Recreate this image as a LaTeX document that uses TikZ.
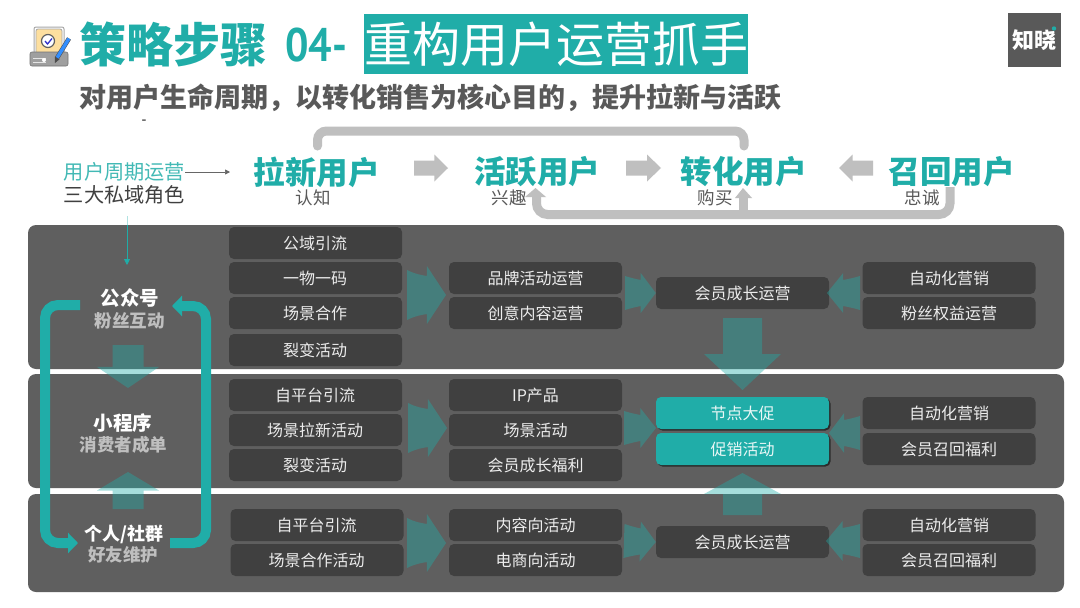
\documentclass[tikz,border=0pt]{standalone}
\usepackage{fontspec}
\setmainfont{Noto Sans CJK SC}
\newfontfamily\latinhead{PT Sans}
\usetikzlibrary{calc,arrows.meta,shadows}
\definecolor{teal1}{HTML}{20ADA8}
\definecolor{panelc}{HTML}{5F5F5F}
\definecolor{boxc}{HTML}{404040}
\definecolor{greyarrow}{HTML}{BFBFBF}
\definecolor{headgrey}{HTML}{595959}
\newcommand{\fs}[1]{\fontsize{#1}{#1}\selectfont}
\tikzset{
  panel/.style={fill=panelc,rounded corners=8pt,draw=none},
  bx/.style={fill=boxc,rounded corners=5pt,minimum width=173pt,minimum height=32pt,inner sep=0pt,text=white!93!black,font=\fs{16}},
  tbx/.style={bx,fill=teal1,text=white!90!teal1,drop shadow={shadow xshift=1.5pt,shadow yshift=-1.5pt,fill=black,opacity=.55}},
  hd/.style={font=\fs{31.5}\bfseries,text=teal1,inner sep=0pt},
  subl/.style={font=\fs{17.5},text=headgrey,inner sep=0pt},
  rolea/.style={font=\fs{19.5}\bfseries,text=white,inner sep=0pt},
  roleb/.style={font=\fs{17.5}\bfseries,text=white!75!black,inner sep=0pt},
  fatfill/.style={fill=teal1,fill opacity=.4,draw=none},
  greyline/.style={draw=greyarrow,line width=9pt,rounded corners=9pt},
  loopline/.style={draw=teal1,line width=10pt,rounded corners=13pt,-{Triangle[width=20pt,length=10pt]}},
}
% point at fraction f along a->b, offset d pt sideways
\newcommand{\pp}[4]{($(#1)!#3!(#2)!#4pt!90:(#2)$)}
% concave-tailed block arrow between two named coordinates
\newcommand{\fatarrow}[3]{%
  \fill[fatfill] \pp{#1}{#2}{0}{\the\numexpr#3*85/100\relax}
   .. controls \pp{#1}{#2}{.2}{\the\numexpr#3*74/100\relax} and \pp{#1}{#2}{.36}{\the\numexpr#3*68/100\relax} .. \pp{#1}{#2}{.51}{\the\numexpr#3*66/100\relax}
   -- \pp{#1}{#2}{.51}{#3} -- (#2) -- \pp{#1}{#2}{.51}{-#3} -- \pp{#1}{#2}{.51}{-\the\numexpr#3*66/100\relax}
   .. controls \pp{#1}{#2}{.36}{-\the\numexpr#3*68/100\relax} and \pp{#1}{#2}{.2}{-\the\numexpr#3*74/100\relax} .. \pp{#1}{#2}{0}{-\the\numexpr#3*85/100\relax} -- cycle;}
% straight block arrow: tail, tip, stem half-width, head half-width, fraction where the head starts, style
\newcommand{\blockarrow}[6]{%
  \fill[#6] \pp{#1}{#2}{0}{#3} -- \pp{#1}{#2}{#5}{#3} -- \pp{#1}{#2}{#5}{#4} -- (#2) -- \pp{#1}{#2}{#5}{-#4} -- \pp{#1}{#2}{#5}{-#3} -- \pp{#1}{#2}{0}{-#3} -- cycle;}
\begin{document}
\begin{tikzpicture}[x=1pt,y=-1pt]
\useasboundingbox (0,0) rectangle (1080,608);
\fill[white] (0,0) rectangle (1080,608);

% icon
\fill[white,draw=gray!70,line width=1pt,rounded corners=2pt] (34,27) rectangle (64,54);
\fill[yellow!35!orange!35!white,draw=gray!70,line width=.8pt,rounded corners=2pt] (36,29) rectangle (62,54);
\draw[fill=white,draw=gray!75!black,line width=1.2pt] (48,41) circle (6.5pt);
\draw[blue!60!gray,line width=1.3pt] (45,41) -- (47.5,44) -- (52,38.5);
\fill[gray!75,draw=gray!90!black,line width=.6pt,rounded corners=2pt] (30,52) rectangle (68,66);
\draw[white!90!black,line width=1pt] (33,58) -- (46,58) (33,62) -- (46,62);
\fill[white] (44,60) circle (2pt);
\draw[gray!60!black,line width=4.5pt] (69,38.5) -- (57,58);
\draw[blue!55!cyan!80!white,line width=3.5pt] (69,38.5) -- (57,58);
\fill[gray!60!black] (55,63) -- (54.8,56.5) -- (59.5,59.3) -- cycle;

% title
\node[anchor=west,inner sep=0pt,font=\fs{47}\bfseries,text=teal1] (title) at (79,44) {策略步骤};
\node[anchor=west,inner sep=0pt,font=\fs{47}\latinhead\bfseries,text=teal1,transform shape,xscale=.88] (titlenum) at (285,45) {04-};
\node[fill=teal1,minimum width=384pt,minimum height=60pt,inner sep=0pt,font=\fs{48},text=white] (titlebox) at (556,44) {重构用户运营抓手};
\node[anchor=west,inner sep=0pt,font=\fs{27}\bfseries,text=headgrey] (subtitle) at (79,98) {对用户生命周期，以转化销售为核心目的，提升拉新与活跃};
\node[inner sep=0pt,font=\fs{14}] (dash) at (144,122) {-};

% logo
\node[fill=headgrey,minimum width=53pt,minimum height=54pt,inner sep=0pt,font=\fs{22}\bfseries,text=white] (logo) at (1034.5,40) {知晓};
\fill[teal1] (1054,28.5) circle (2.2pt);

% headers
\node[hd] (h1) at (316.5,172) {拉新用户};
\node[hd] (h2) at (537,172) {活跃用户};
\node[hd] (h3) at (743.5,172) {转化用户};
\node[hd] (h4) at (951.5,172) {召回用户};
\node[subl] (s1) at (313,198) {认知};
\node[subl] (s2) at (509,198) {兴趣};
\node[subl] (s3) at (715,198) {购买};
\node[subl] (s4) at (922,198) {忠诚};
\node[inner sep=0pt,font=\fs{20.2},text=teal1!85!white] (lc) at (124.5,172) {用户周期运营};
\node[inner sep=0pt,font=\fs{20.2},text=boxc] (pr) at (124.5,195) {三大私域角色};

% grey flow arrows
\coordinate (ga1) at (414,168); \coordinate (gb1) at (448,168);
\coordinate (ga2) at (626,168); \coordinate (gb2) at (661,168);
\coordinate (ga3) at (873,168); \coordinate (gb3) at (839,168);
\blockarrow{ga1}{gb1}{7.5}{13.5}{.6}{fill=greyarrow}
\blockarrow{ga2}{gb2}{7.5}{13.5}{.6}{fill=greyarrow}
\blockarrow{ga3}{gb3}{7.5}{13.5}{.6}{fill=greyarrow}

% grey loops
\draw[greyline,line cap=round] (317.5,146) -- (317.5,131) -- (744,131) -- (744,146);
\draw[greyline,rounded corners=11pt] (950,187) -- (950,214.5) -- (536.5,214.5) -- (536.5,197);
\fill[greyarrow] (535.5,188) -- (546,197) -- (525,197) -- cycle;
\draw[draw=greyarrow,line width=9pt,rounded corners=6pt] (743,197) -- (743,214.5);
\fill[greyarrow] (743,188) -- (752,198) -- (735,198) -- cycle;

% panels
\path[panel] (28,225) rectangle (1064,369);
\path[panel] (28,374) rectangle (1064,488);
\path[panel] (28,494) rectangle (1064,592);

% thin connectors
\draw[draw=gray!80!black,line width=.7pt,-{Triangle[width=5pt,length=5pt]}] (lc.east) -- (230,172);
\coordinate (thintop) at (127,216);
\draw[draw=teal1!35!white,line width=1pt] (thintop) -- (127,225);
\draw[draw=teal1,line width=.9pt,-{Triangle[width=6pt,length=6pt]}] (127,225) -- (127,265);

% role labels
\node[rolea] (ra1) at (130,298) {公众号};
\node[roleb] (rb1) at (129.5,321) {粉丝互动};
\node[rolea] (ra2) at (123,423) {小程序};
\node[roleb] (rb2) at (123.5,445) {消费者成单};
\node[rolea,font=\fs{18}\bfseries] (ra3) at (124,534) {个人/社群};
\node[roleb] (rb3) at (123,555) {好友维护};

% role loop
\draw[loopline] (80,305) -- (45,305) -- (45,543) -- (78,543);
\draw[loopline] (170,543) -- (206,543) -- (206,306) -- (172,306);

% column 1
\node[bx] (a1) at (315.5,243) {\kern-1pt 公域引流};
\node[bx] (a2) at (315.5,278) {\kern-1pt 一物一码};
\node[bx] (a3) at (315.5,313) {\kern-1pt 场景合作};
\node[bx] (a4) at (315.5,350) {\kern-1pt 裂变活动};
\node[bx] (a5) at (315.5,395) {\kern-1pt 自平台引流};
\node[bx] (a6) at (315.5,430) {\kern-1pt 场景拉新活动};
\node[bx] (a7) at (315.5,465) {\kern-1pt 裂变活动};
\node[bx] (a8) at (317,525) {\kern-1pt 自平台引流};
\node[bx] (a9) at (317,560) {\kern-1pt 场景合作活动};
% column 2
\node[bx] (b1) at (535.5,278) {品牌活动运营};
\node[bx] (b2) at (535.5,313) {创意内容运营};
\node[bx] (b3) at (535.5,395) {IP产品};
\node[bx] (b4) at (535.5,430) {场景活动};
\node[bx] (b5) at (535.5,465) {会员成长福利};
\node[bx] (b6) at (535.5,525) {内容向活动};
\node[bx] (b7) at (535.5,560) {电商向活动};
% column 3
\node[bx] (c1) at (742.5,293) {会员成长运营};
\node[tbx] (c2) at (742.5,413) {节点大促};
\node[tbx] (c3) at (742.5,449) {促销活动};
\node[bx] (c4) at (742.5,542) {会员成长运营};
% column 4
\node[bx] (d1) at (949,278) {自动化营销};
\node[bx] (d2) at (949,313) {粉丝权益运营};
\node[bx] (d3) at (949,413) {自动化营销};
\node[bx] (d4) at (949,449) {会员召回福利};
\node[bx] (d5) at (949,525) {自动化营销};
\node[bx] (d6) at (949,560) {会员召回福利};

% fat arrows
\coordinate (t1) at (407,295);   \coordinate (p1) at (446,295);
\coordinate (t2) at (625,293);   \coordinate (p2) at (c1.west);
\coordinate (t3) at (860,293);   \coordinate (p3) at (827,293);
\coordinate (t4) at (408,428);   \coordinate (p4) at (447,428);
\coordinate (t5) at (624,428);   \coordinate (p5) at (656,428);
\coordinate (t6) at (860,433);   \coordinate (p6) at (829,433);
\coordinate (t7) at (407,543);   \coordinate (p7) at (446,543);
\coordinate (t8) at (624,541);   \coordinate (p8) at (c4.west);
\coordinate (t9) at (860,541);   \coordinate (p9) at (826,541);
\fatarrow{t1}{p1}{29}
\fatarrow{t2}{p2}{20}
\fatarrow{t3}{p3}{20}
\fatarrow{t4}{p4}{29}
\fatarrow{t5}{p5}{20}
\fatarrow{t6}{p6}{20}
\fatarrow{t7}{p7}{29}
\fatarrow{t8}{p8}{20}
\fatarrow{t9}{p9}{20}

% vertical block arrows
\coordinate (v1) at (742.5,318); \coordinate (w1) at (742.5,390);
\coordinate (v2) at (742.5,515); \coordinate (w2) at (742.5,473);
\coordinate (v3) at (128,345);   \coordinate (w3) at (128,388);
\coordinate (v4) at (128,509);   \coordinate (w4) at (128,472);
\blockarrow{v1}{w1}{19.5}{38.5}{.5}{fatfill}
\blockarrow{v2}{w2}{19.5}{38.5}{.5}{fatfill}
\blockarrow{v3}{w3}{15.5}{31}{.51}{fatfill}
\blockarrow{v4}{w4}{15.5}{31}{.5}{fatfill}
\end{tikzpicture}
\end{document}
